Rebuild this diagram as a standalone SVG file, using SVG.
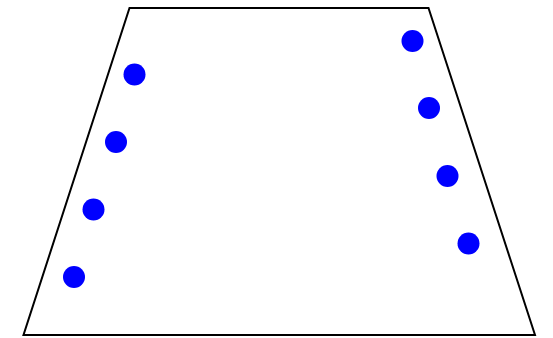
<svg xmlns="http://www.w3.org/2000/svg" width="553" height="338" viewBox="0 0 553 338">
<style>
.shape{fill:#fff;stroke:#000;stroke-width:2}
.dot{fill:#0000ff}
</style>
<rect width="553" height="338" fill="#fff"/>
<g id="trapezoid"><polygon class="shape" points="129.5,8 428.5,8 535,335 23.5,335"/></g>
<g id="left-dots">
<circle class="dot" cx="134.5" cy="74.5" r="11"/>
<circle class="dot" cx="116" cy="142" r="11"/>
<circle class="dot" cx="93.5" cy="209.5" r="11"/>
<circle class="dot" cx="74" cy="277" r="11"/>
</g>
<g id="right-dots">
<circle class="dot" cx="412.5" cy="41" r="11"/>
<circle class="dot" cx="429" cy="108" r="11"/>
<circle class="dot" cx="447.5" cy="176" r="11"/>
<circle class="dot" cx="468.5" cy="243.5" r="11"/>
</g>
</svg>
